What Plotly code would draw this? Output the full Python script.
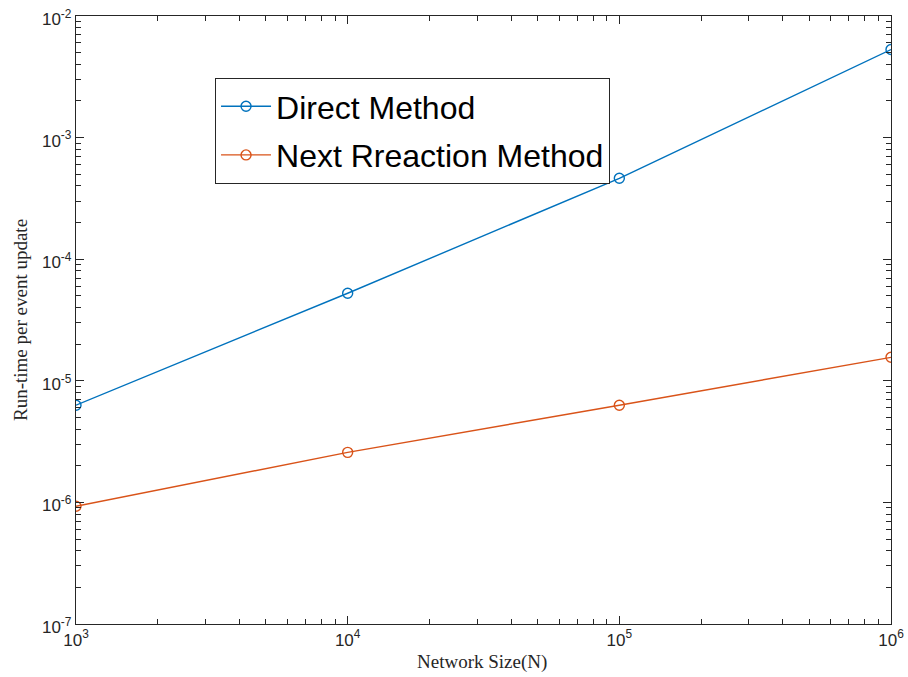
import plotly.graph_objects as go

network_size = [1e3, 1e4, 1e5, 1e6]
direct_method = [6.3e-6, 5.25e-5, 4.63e-4, 5.3e-3]
next_reaction_method = [9.3e-7, 2.58e-6, 6.3e-6, 1.56e-5]

x_tick_vals = [1e3, 1e4, 1e5, 1e6]
x_tick_text = ["10<sup>3</sup>", "10<sup>4</sup>", "10<sup>5</sup>", "10<sup>6</sup>"]
y_tick_vals = [1e-7, 1e-6, 1e-5, 1e-4, 1e-3, 1e-2]
y_tick_text = ["10<sup>-7</sup>", "10<sup>-6</sup>", "10<sup>-5</sup>",
               "10<sup>-4</sup>", "10<sup>-3</sup>", "10<sup>-2</sup>"]

x_minor = [m * 10 ** e for e in range(3, 6) for m in range(2, 10)]
y_minor = [m * 10 ** e for e in range(-7, -2) for m in range(2, 10)]

axis_color = "#262626"
serif = "Liberation Serif, Times New Roman, serif"

fig = go.Figure()
fig.add_trace(go.Scatter(
    x=network_size, y=direct_method, name="Direct Method",
    mode="lines+markers", legendgroup="a",
    line=dict(color="#0072BD", width=1.4),
    marker=dict(symbol="circle-open", size=10, color="#0072BD", line=dict(width=1.4)),
))
fig.add_trace(go.Scatter(
    x=network_size, y=next_reaction_method, name="Next Rreaction Method",
    mode="lines+markers", legendgroup="b",
    line=dict(color="#D95319", width=1.4),
    marker=dict(symbol="circle-open", size=10, color="#D95319", line=dict(width=1.4)),
))

common = dict(
    showgrid=False, zeroline=False, showline=True, linecolor=axis_color, linewidth=1.3,
    mirror="allticks", ticks="inside", ticklen=8, tickwidth=1, tickcolor=axis_color,
    tickfont=dict(family="Liberation Sans, Arial", size=17, color=axis_color),
    automargin=False, ticklabeloverflow="allow",
)

fig.update_xaxes(
    type="log", range=[3, 6], tickvals=x_tick_vals, ticktext=x_tick_text,
    minor=dict(ticks="inside", ticklen=5, tickcolor=axis_color, tickvals=x_minor),
    **common,
)
fig.update_yaxes(
    type="log", range=[-7, -2], tickvals=y_tick_vals, ticktext=y_tick_text,
    minor=dict(ticks="inside", ticklen=5, tickcolor=axis_color, tickvals=y_minor),
    ticklabelshift=3,
    **common,
)

fig.add_annotation(
    text="Network Size(N)", xref="paper", yref="paper", x=0.498, y=0,
    xanchor="center", yanchor="middle", yshift=-38, showarrow=False,
    font=dict(family=serif, size=19, color=axis_color),
)
fig.add_annotation(
    text="Run-time per event update", xref="paper", yref="paper", x=0, y=0.5,
    xanchor="center", yanchor="middle", xshift=-56, showarrow=False, textangle=-90,
    font=dict(family=serif, size=19, color=axis_color),
)

fig.update_layout(
    width=908, height=677,
    margin=dict(l=76, r=17, t=16, b=53),
    paper_bgcolor="white", plot_bgcolor="white",
    showlegend=True,
    legend=dict(
        x=0.1706, y=0.898, xanchor="left", yanchor="top",
        bgcolor="white", bordercolor=axis_color, borderwidth=1,
        font=dict(family="Liberation Sans, Arial", size=32, color="black"),
        itemwidth=50, traceorder="grouped", tracegroupgap=4,
    ),
)

fig.write_html(
    "out.html",
    config={"displayModeBar": False},
    post_script="document.body.style.margin='0';document.body.style.overflow='hidden';",
)
